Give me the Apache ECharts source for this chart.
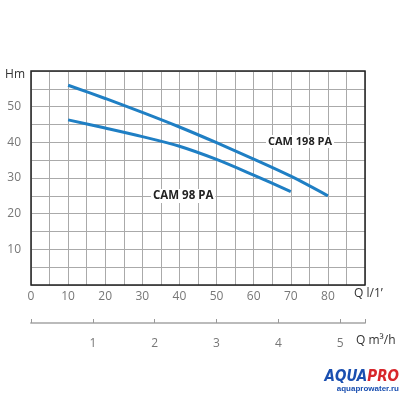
<!DOCTYPE html>
<html><head><meta charset="utf-8">
<script src="https://cdn.jsdelivr.net/npm/echarts@6/dist/echarts.min.js"></script>
<style>html,body{margin:0;background:#fff}#c{width:400px;height:400px}</style>
</head><body><div id="c"></div>
<script>
var flowLpm = [10, 20, 30, 40, 50, 60, 70, 80];
var cam198 = [56, 52.3, 48.4, 44.3, 39.9, 35.3, 30.5, 25];
var cam98 = [46.3, 44, 41.6, 38.9, 35.2, 30.8, 26.2];
var m3hTicks = [1, 2, 3, 4, 5];

var chart = echarts.init(document.getElementById('c'));
var font = '"Open Sans", sans-serif';
var grey = '#777';
function pairs(ys) { return ys.map(function (y, i) { return [flowLpm[i], y]; }); }

chart.setOption({
  animation: false,
  grid: { left: 31, right: 35, top: 71, bottom: 115 },
  xAxis: [{
    type: 'value', min: 0, max: 90, interval: 5,
    axisLine: { show: false }, axisTick: { show: false },
    splitLine: { lineStyle: { color: '#aaa', width: 1 } },
    axisLabel: { color: grey, fontFamily: font, fontSize: 12, margin: 6,
      formatter: function (v) { return (v % 10 === 0 && v < 90) ? v : ''; } }
  }, {
    type: 'value', min: 0, max: 5.4, position: 'bottom', offset: 38, interval: 1,
    axisLine: { show: true, lineStyle: { color: '#bbb', width: 2 } },
    axisTick: { show: true, length: 4, inside: true, lineStyle: { color: '#999' } },
    splitLine: { show: false },
    axisLabel: { color: grey, fontFamily: font, fontSize: 12, margin: 15,
      formatter: function (v) { return m3hTicks.indexOf(v) >= 0 ? v : ''; } }
  }],
  yAxis: {
    type: 'value', min: 0, max: 60, interval: 5,
    axisLine: { show: false }, axisTick: { show: false },
    splitLine: { lineStyle: { color: '#aaa', width: 1 } },
    axisLabel: { color: grey, fontFamily: font, fontSize: 12, margin: 10,
      formatter: function (v) { return (v % 10 === 0 && v > 0 && v < 60) ? v : ''; } },
    name: 'Hm', nameLocation: 'end', nameGap: -4,
    nameTextStyle: { color: '#333', fontFamily: font, fontSize: 12, align: 'right', verticalAlign: 'middle', padding: [0, 6, 0, 0] }
  },
  graphic: [{
    type: 'rect', shape: { x: 31, y: 71, width: 334, height: 214 },
    style: { fill: 'none', stroke: '#222', lineWidth: 1.5 }, z: 10
  }, {
    type: 'text', left: 354, top: 288, z: 20,
    style: { text: 'Q l/1\u2019', font: '12px ' + font, fill: '#333' }
  }, {
    type: 'text', left: 356, top: 335, z: 20,
    style: { text: 'Q m\u00b3/h', font: '12px ' + font, fill: '#333' }
  }, {
    type: 'text', left: 266, top: 135, z: 20,
    style: { text: 'CAM 198 PA', font: 'bold 11px ' + font, fill: '#222', backgroundColor: '#fff', padding: [1, 2] }
  }, {
    type: 'text', left: 151, top: 189, z: 20,
    style: { text: 'CAM 98 PA', font: 'bold 11.5px ' + font, fill: '#222', backgroundColor: '#fff', padding: [1, 2] }
  }, {
    type: 'text', right: 1, top: 370, z: 20,
    style: {
      text: '{a|AQUA}{p|PRO}\n{u|aquaprowater.ru}',
      align: 'right',
      rich: {
        a: { font: 'italic bold 15px "DejaVu Sans Condensed", sans-serif', fill: '#1a4fb0' },
        p: { font: 'italic bold 15px "DejaVu Sans Condensed", sans-serif', fill: '#d8262b' },
        u: { font: 'bold 8px sans-serif', fill: '#1a4fb0', align: 'right' }
      }
    }
  }],
  series: [{
    type: 'line', data: pairs(cam198), smooth: 0.3, symbol: 'none',
    lineStyle: { color: '#1f7fc4', width: 3 }
  }, {
    type: 'line', data: pairs(cam98), smooth: 0.3, symbol: 'none',
    lineStyle: { color: '#1f7fc4', width: 3 }
  }]
});
</script></body></html>
